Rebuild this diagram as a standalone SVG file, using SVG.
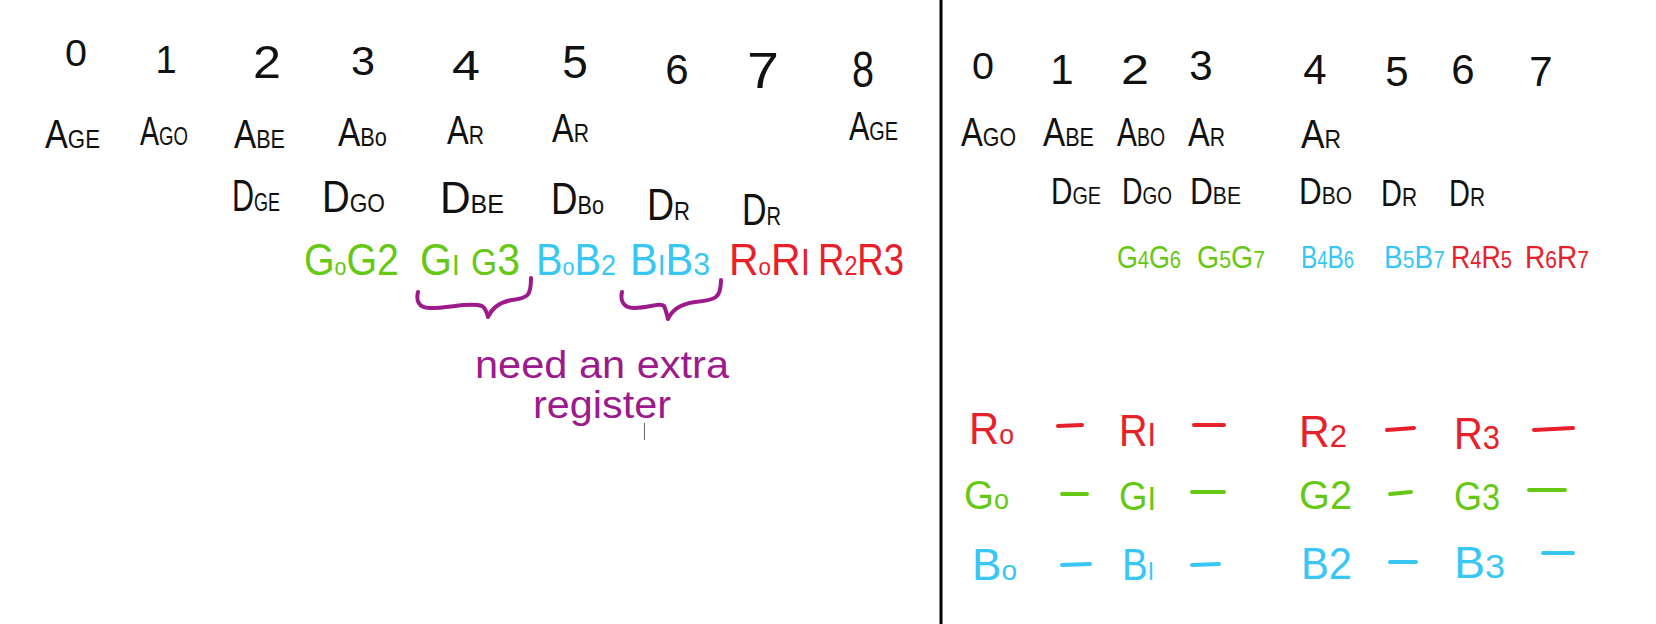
<svg xmlns="http://www.w3.org/2000/svg" width="1656" height="624" viewBox="0 0 1656 624">
<style>
text{font-family:"Liberation Sans","DejaVu Sans",sans-serif}
.k{fill:#111}
.g{fill:#66c814}
.b{fill:#38c6f4}
.r{fill:#e8202a}
.p{fill:#9c1a8c}
.n{text-anchor:middle}
.s{font-size:26px}
.dr{stroke:#e8202a}
.dg{stroke:#66c814}
.db{stroke:#38c6f4}
.dash{stroke-width:4;stroke-linecap:round;fill:none}
</style>
<rect width="1656" height="624" fill="#fff"/>
<g id="divider"><line x1="941" y1="0" x2="941" y2="624" stroke="#000" stroke-width="3"/></g>

<g id="left-numbers" class="k n">
<text x="76" y="66" font-size="36" textLength="22" lengthAdjust="spacingAndGlyphs">0</text>
<text x="166" y="73" font-size="38">1</text>
<text x="267" y="78" font-size="46" textLength="28" lengthAdjust="spacingAndGlyphs">2</text>
<text x="363" y="75" font-size="40" textLength="24" lengthAdjust="spacingAndGlyphs">3</text>
<text x="466" y="80" font-size="42" textLength="28" lengthAdjust="spacingAndGlyphs">4</text>
<text x="575" y="78" font-size="46">5</text>
<text x="677" y="84" font-size="42">6</text>
<text x="763" y="88" font-size="50" textLength="32" lengthAdjust="spacingAndGlyphs">7</text>
<text x="863" y="87" font-size="50" textLength="22" lengthAdjust="spacingAndGlyphs">8</text>
</g>

<g id="left-A" class="k" font-size="40">
<text x="45" y="148" textLength="55" lengthAdjust="spacingAndGlyphs">A<tspan class="s">GE</tspan></text>
<text x="140" y="145" textLength="48" lengthAdjust="spacingAndGlyphs">A<tspan class="s">GO</tspan></text>
<text x="234" y="148" textLength="51" lengthAdjust="spacingAndGlyphs">A<tspan class="s">BE</tspan></text>
<text x="338" y="146" textLength="49" lengthAdjust="spacingAndGlyphs">A<tspan class="s">Bo</tspan></text>
<text x="447" y="144" textLength="37" lengthAdjust="spacingAndGlyphs">A<tspan class="s">R</tspan></text>
<text x="552" y="142" textLength="37" lengthAdjust="spacingAndGlyphs">A<tspan class="s">R</tspan></text>
<text x="849" y="140" textLength="49" lengthAdjust="spacingAndGlyphs">A<tspan class="s">GE</tspan></text>
</g>

<g id="left-D" class="k" font-size="44">
<text x="232" y="211" textLength="48" lengthAdjust="spacingAndGlyphs">D<tspan class="s">GE</tspan></text>
<text x="322" y="212" textLength="63" lengthAdjust="spacingAndGlyphs">D<tspan class="s">GO</tspan></text>
<text x="440" y="213" textLength="64" lengthAdjust="spacingAndGlyphs">D<tspan class="s">BE</tspan></text>
<text x="551" y="214" textLength="53" lengthAdjust="spacingAndGlyphs">D<tspan class="s">Bo</tspan></text>
<text x="647" y="220" textLength="43" lengthAdjust="spacingAndGlyphs">D<tspan class="s">R</tspan></text>
<text x="742" y="225" textLength="39" lengthAdjust="spacingAndGlyphs">D<tspan class="s">R</tspan></text>
</g>

<g id="left-colors" font-size="44">
<text class="g" x="304" y="275" textLength="95" lengthAdjust="spacingAndGlyphs">G<tspan font-size="24">o</tspan>G2</text>
<text class="g" x="420" y="275" textLength="100" lengthAdjust="spacingAndGlyphs">G<tspan font-size="30">I</tspan> <tspan font-size="36">G</tspan>3</text>
<text class="b" x="536" y="275" textLength="80" lengthAdjust="spacingAndGlyphs">B<tspan font-size="24">o</tspan>B<tspan font-size="30">2</tspan></text>
<text class="b" x="630" y="275" textLength="80" lengthAdjust="spacingAndGlyphs">B<tspan font-size="30">I</tspan>B<tspan font-size="32">3</tspan></text>
<text class="r" x="729" y="275" textLength="81" lengthAdjust="spacingAndGlyphs">R<tspan font-size="24">o</tspan>R<tspan font-size="36">I</tspan></text>
<text class="r" x="818" y="275" textLength="86" lengthAdjust="spacingAndGlyphs">R<tspan font-size="28">2</tspan>R3</text>
</g>

<g id="braces" fill="none" stroke="#9c1a8c" stroke-width="4" stroke-linecap="round" stroke-linejoin="round">
<path d="M418,292 C416,300 418,308 430,308 C450,308 470,302 482,306 C486,308 487,314 488,317 C492,308 500,302 512,300 C528,298 531,296 531,278"/>
<path d="M622,292 C620,300 623,308 634,308 C650,308 660,302 664,306 C666,310 667,315 668,319 C672,310 680,304 695,302 C716,300 721,298 721,280"/>
</g>

<g id="note" class="p" font-size="38">
<text x="475" y="378" textLength="254" lengthAdjust="spacingAndGlyphs">need an extra</text>
<text x="533" y="418" textLength="138" lengthAdjust="spacingAndGlyphs">register</text>
</g>
<line x1="644.5" y1="423" x2="644.5" y2="440" stroke="#666" stroke-width="1"/>

<g id="right-numbers" class="k n" font-size="42">
<text x="983" y="79" font-size="36" textLength="22" lengthAdjust="spacingAndGlyphs">0</text>
<text x="1062" y="84">1</text>
<text x="1135" y="84" textLength="28" lengthAdjust="spacingAndGlyphs">2</text>
<text x="1201" y="80">3</text>
<text x="1315" y="84">4</text>
<text x="1397" y="86">5</text>
<text x="1463" y="84">6</text>
<text x="1541" y="86">7</text>
</g>

<g id="right-A" class="k" font-size="40">
<text x="961" y="146" textLength="55" lengthAdjust="spacingAndGlyphs">A<tspan class="s">GO</tspan></text>
<text x="1043" y="146" textLength="51" lengthAdjust="spacingAndGlyphs">A<tspan class="s">BE</tspan></text>
<text x="1117" y="146" textLength="48" lengthAdjust="spacingAndGlyphs">A<tspan class="s">BO</tspan></text>
<text x="1188" y="146" textLength="37" lengthAdjust="spacingAndGlyphs">A<tspan class="s">R</tspan></text>
<text x="1301" y="148" textLength="40" lengthAdjust="spacingAndGlyphs">A<tspan class="s">R</tspan></text>
</g>

<g id="right-D" class="k" font-size="36">
<text x="1051" y="204" textLength="50" lengthAdjust="spacingAndGlyphs">D<tspan font-size="24">GE</tspan></text>
<text x="1122" y="204" textLength="50" lengthAdjust="spacingAndGlyphs">D<tspan font-size="24">GO</tspan></text>
<text x="1190" y="204" textLength="51" lengthAdjust="spacingAndGlyphs">D<tspan font-size="24">BE</tspan></text>
<text x="1299" y="204" textLength="53" lengthAdjust="spacingAndGlyphs">D<tspan font-size="24">BO</tspan></text>
<text x="1381" y="206" textLength="36" lengthAdjust="spacingAndGlyphs">D<tspan font-size="26">R</tspan></text>
<text x="1449" y="206" textLength="36" lengthAdjust="spacingAndGlyphs">D<tspan font-size="26">R</tspan></text>
</g>

<g id="right-colors" font-size="32">
<text class="g" x="1117" y="268" textLength="64" lengthAdjust="spacingAndGlyphs">G<tspan font-size="24">4</tspan>G<tspan font-size="24">6</tspan></text>
<text class="g" x="1197" y="268" textLength="68" lengthAdjust="spacingAndGlyphs">G<tspan font-size="24">5</tspan>G<tspan font-size="24">7</tspan></text>
<text class="b" x="1301" y="268" textLength="53" lengthAdjust="spacingAndGlyphs">B<tspan font-size="24">4</tspan>B<tspan font-size="24">6</tspan></text>
<text class="b" x="1384" y="268" textLength="61" lengthAdjust="spacingAndGlyphs">B<tspan font-size="24">5</tspan>B<tspan font-size="24">7</tspan></text>
<text class="r" x="1451" y="268" textLength="61" lengthAdjust="spacingAndGlyphs">R<tspan font-size="24">4</tspan>R<tspan font-size="24">5</tspan></text>
<text class="r" x="1525" y="268" textLength="64" lengthAdjust="spacingAndGlyphs">R<tspan font-size="24">6</tspan>R<tspan font-size="24">7</tspan></text>
</g>

<g id="seq-R" class="r" font-size="44">
<text x="969" y="444" textLength="45" lengthAdjust="spacingAndGlyphs">R<tspan font-size="28">o</tspan></text>
<text x="1119" y="446" textLength="37" lengthAdjust="spacingAndGlyphs">R<tspan font-size="34">I</tspan></text>
<text x="1299" y="447" textLength="48" lengthAdjust="spacingAndGlyphs">R<tspan font-size="32">2</tspan></text>
<text x="1454" y="449" textLength="46" lengthAdjust="spacingAndGlyphs">R<tspan font-size="34">3</tspan></text>
</g>
<g id="seq-G" class="g" font-size="40">
<text x="964" y="509" textLength="45" lengthAdjust="spacingAndGlyphs">G<tspan font-size="28">o</tspan></text>
<text x="1119" y="510" textLength="37" lengthAdjust="spacingAndGlyphs">G<tspan font-size="34">I</tspan></text>
<text x="1299" y="509" textLength="53" lengthAdjust="spacingAndGlyphs">G2</text>
<text x="1454" y="510" textLength="46" lengthAdjust="spacingAndGlyphs">G<tspan font-size="36">3</tspan></text>
</g>
<g id="seq-B" class="b" font-size="44">
<text x="972" y="580" textLength="45" lengthAdjust="spacingAndGlyphs">B<tspan font-size="28">o</tspan></text>
<text x="1122" y="580" textLength="32" lengthAdjust="spacingAndGlyphs">B<tspan font-size="26">I</tspan></text>
<text x="1301" y="579" textLength="51" lengthAdjust="spacingAndGlyphs">B2</text>
<text x="1454" y="578" textLength="51" lengthAdjust="spacingAndGlyphs">B<tspan font-size="34">3</tspan></text>
</g>

<g id="connectors" class="dash">
<line class="dr" x1="1058" y1="426" x2="1082" y2="425"/>
<line class="dr" x1="1194" y1="425" x2="1224" y2="425"/>
<line class="dr" x1="1387" y1="430" x2="1414" y2="428"/>
<line class="dr" x1="1534" y1="430" x2="1573" y2="428"/>
<line class="dg" x1="1062" y1="494" x2="1087" y2="494"/>
<line class="dg" x1="1192" y1="492" x2="1224" y2="492"/>
<line class="dg" x1="1390" y1="494" x2="1411" y2="492"/>
<line class="dg" x1="1529" y1="490" x2="1565" y2="490"/>
<line class="db" x1="1062" y1="565" x2="1090" y2="564"/>
<line class="db" x1="1192" y1="565" x2="1219" y2="564"/>
<line class="db" x1="1390" y1="562" x2="1416" y2="562"/>
<line class="db" x1="1543" y1="553" x2="1573" y2="553"/>
</g>
</svg>
